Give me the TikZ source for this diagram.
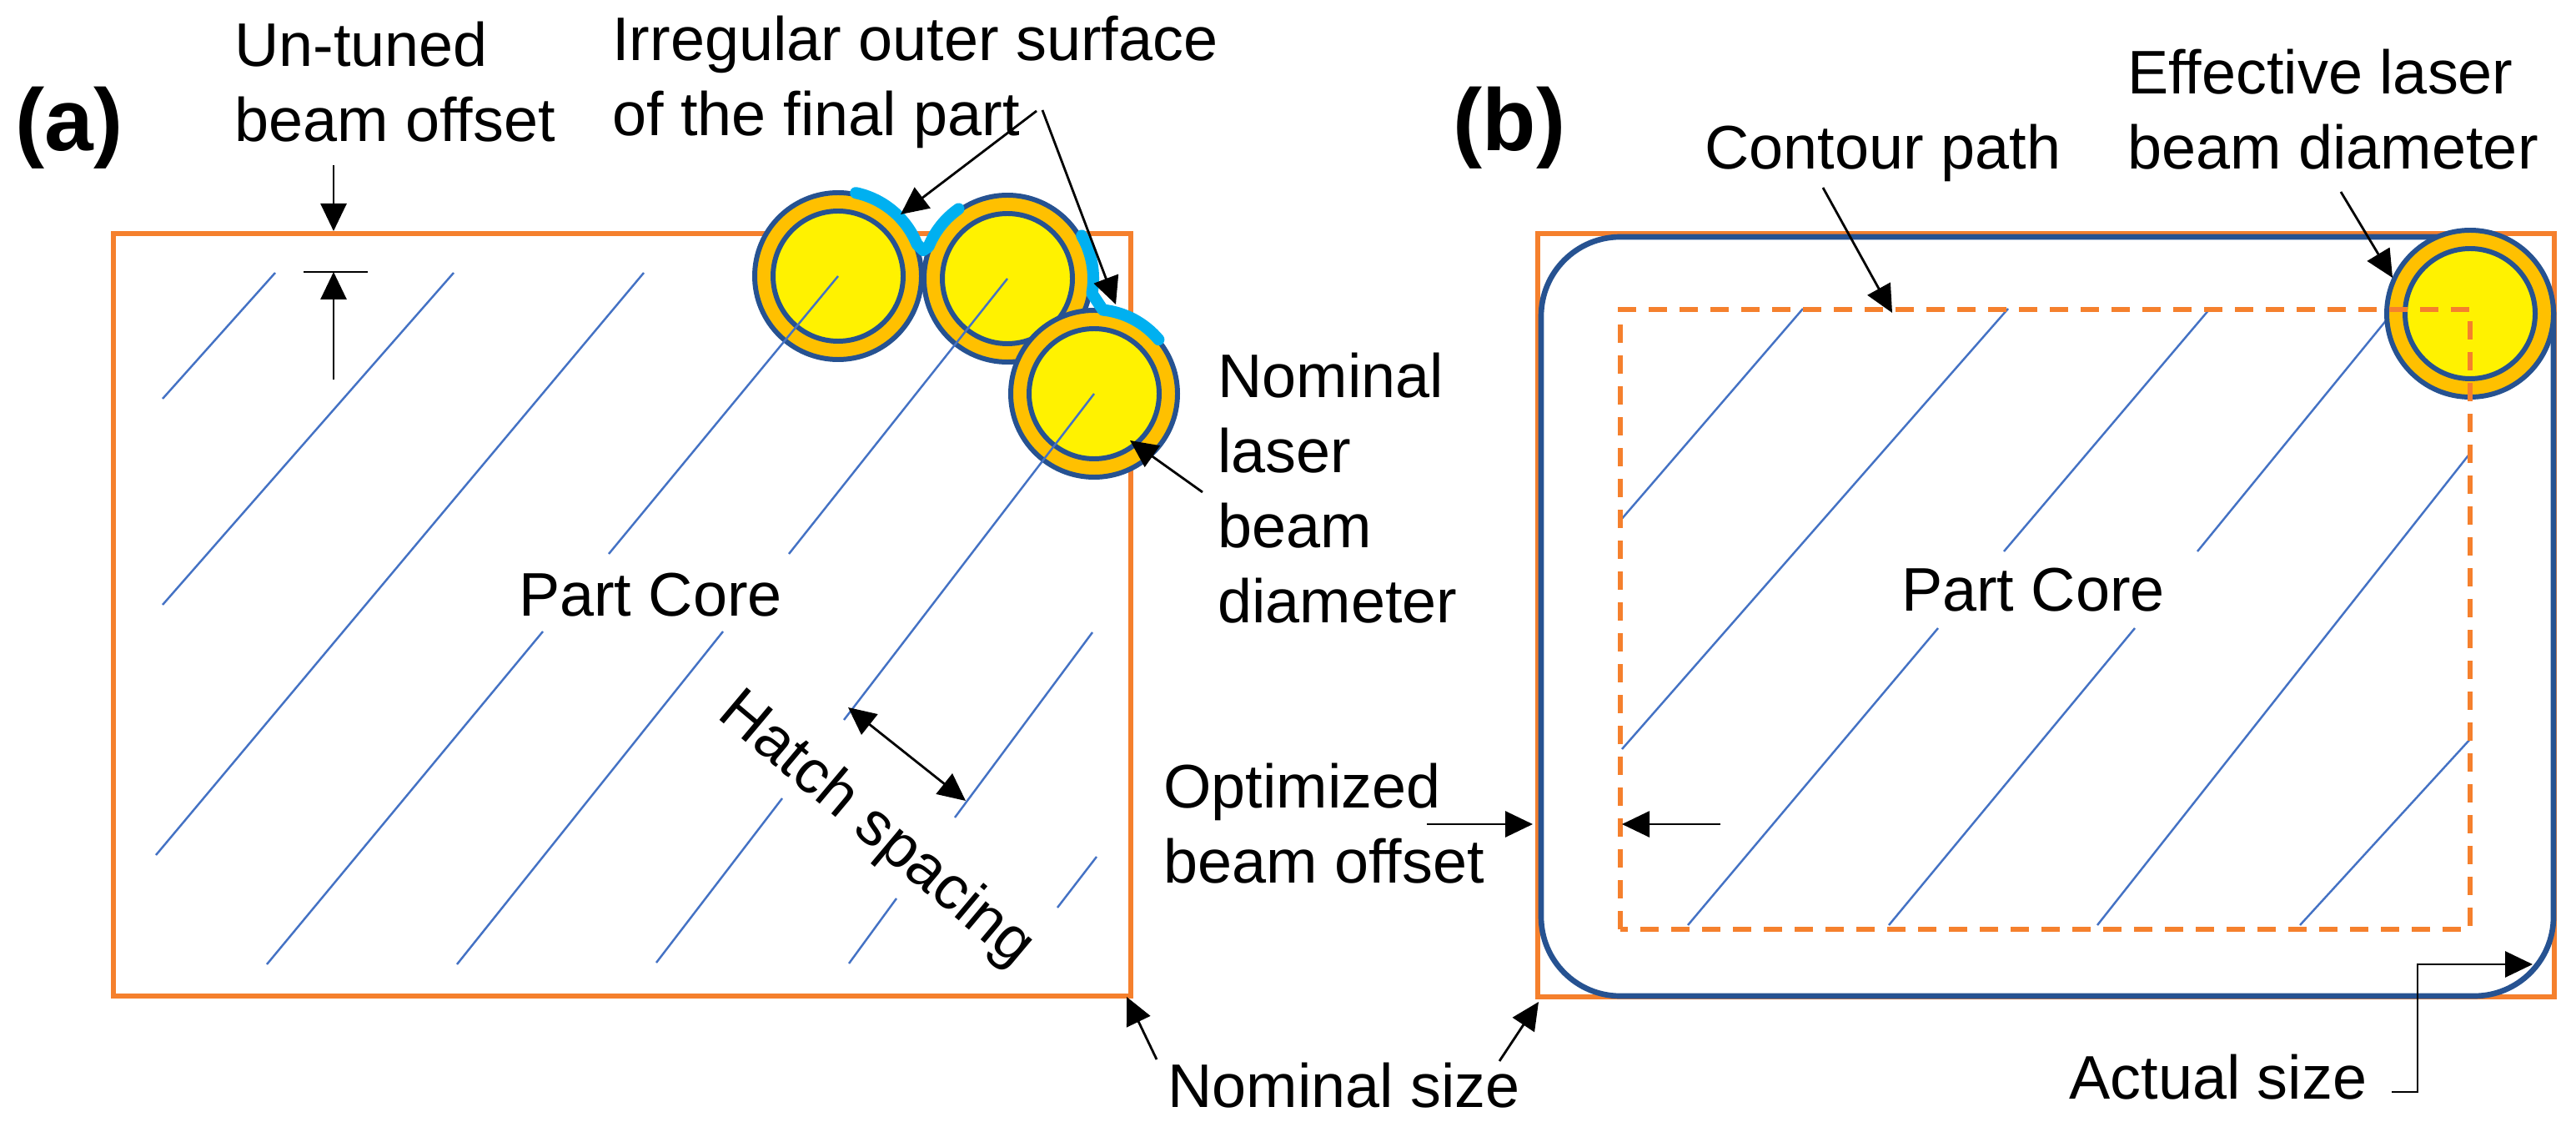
\documentclass[tikz,border=0pt]{standalone}
\usepackage{fontspec}
\setmainfont{Liberation Sans}
\usetikzlibrary{arrows.meta}

\definecolor{nomorange}{RGB}{245,128,45}
\definecolor{beamblue}{RGB}{38,82,145}
\definecolor{ringgold}{RGB}{255,192,0}
\definecolor{hatchblue}{RGB}{68,114,196}
\definecolor{surfcyan}{RGB}{0,176,240}

\tikzset{
  lbl/.style={font=\fontsize{21}{25.6}\selectfont,inner sep=0pt,align=left},
  panel/.style={font=\bfseries\fontsize{30}{36}\selectfont,inner sep=0pt},
  hatch/.style={hatchblue,line width=0.7pt},
  nominal/.style={nomorange,line width=1.8pt},
  beamring/.style={beamblue,line width=1.7pt,fill=ringgold},
  beamspot/.style={beamblue,line width=1.7pt,fill=yellow},
  surf/.style={surfcyan,line width=4pt,line cap=round,line join=round},
}

\begin{document}
\begin{tikzpicture}[line width=0.8pt,>={Triangle[length=3.3mm,width=3.1mm]}]
  \useasboundingbox (0,0) rectangle (30.89,13.56);
  % (a) contorno nominal + haces
  \draw[nominal] (1.36,1.62) rectangle (13.56,10.76);
  \coordinate (c1) at (10.05,10.25);
  \coordinate (c2) at (12.08,10.22);
  \coordinate (c3) at (13.12,8.84);
  \foreach \c in {c1,c2,c3} {\draw[beamring] (\c) circle(1.0); \draw[beamspot] (\c) circle(0.78);}
  \foreach \xa/\ya/\xb/\yb in {1.95/8.78/3.30/10.29, 1.95/6.31/5.44/10.29, 1.87/3.31/7.72/10.29,
      3.20/2.00/6.51/5.99, 5.48/2.00/8.67/5.99, 7.87/2.02/9.38/3.99, 10.18/2.01/10.75/2.79,
      11.45/3.76/13.10/5.98, 12.68/2.68/13.15/3.29}
    \draw[hatch] (\xa,\ya) -- (\xb,\yb);
  \draw[hatch] (7.30,6.92) -- (c1);
  \draw[hatch] (9.46,6.92) -- (c2);
  \draw[hatch] (10.12,4.93) -- (c3);
  % superficie irregular
  \draw[surf] ([shift={(78:1.02)}]c1) arc[start angle=78,end angle=22,radius=1.02]
    -- (11.07,10.56) -- ([shift={(158:1.02)}]c2) arc[start angle=158,end angle=125,radius=1.02];
  \draw[surf] ([shift={(30:1.03)}]c2) arc[start angle=30,end angle=-10,radius=1.03]
    -- ([shift={(84:1.01)}]c3) arc[start angle=84,end angle=40,radius=1.01];

  \node[panel] (pa) at (0.83,12.03) {(a)};
  \node[lbl,anchor=north west] (untuned) at (2.80,13.31) {Un-tuned\\beam offset};
  \node[lbl,anchor=north west] (irreg) at (7.33,13.38) {Irregular outer surface\\of the final part};
  \node[lbl,anchor=north west] (nomlaser) at (14.59,9.34) {Nominal\\laser\\beam\\diameter};
  \node[lbl,anchor=base] (corea) at (7.80,6.18) {Part Core};
  \node[lbl,rotate=-40] (hatchsp) at (10.50,3.61) {Hatch spacing};
  \node[lbl,anchor=base west] (nomsize) at (13.99,0.29) {Nominal size};

  % cotas y flechas (a)
  \coordinate (ut1) at (4.00,11.58); \coordinate (ut2) at (4.00,10.79);
  \coordinate (ut3) at (4.00,9.01);  \coordinate (ut4) at (4.00,10.30);
  \coordinate (bar1) at (3.64,10.30); \coordinate (bar2) at (4.41,10.30);
  \draw[->] (ut1) -- (ut2);
  \draw[->] (ut3) -- (ut4);
  \draw (bar1) -- (bar2);
  \coordinate (ir1) at (12.43,12.23); \coordinate (ir2) at (10.80,10.99);
  \coordinate (ir3) at (12.50,12.24); \coordinate (ir4) at (13.38,9.91);
  \draw[->] (ir1) -- (ir2);
  \draw[->] (ir3) -- (ir4);
  \coordinate (nl1) at (14.42,7.66); \coordinate (nl2) at (13.55,8.28);
  \draw[->] (nl1) -- (nl2);
  \coordinate (hs1) at (10.17,5.08); \coordinate (hs2) at (11.58,3.96);
  \draw[<->] (hs1) -- (hs2);
  \coordinate (ns1) at (13.87,0.86); \coordinate (ns2) at (13.51,1.61);
  \coordinate (ns3) at (17.98,0.84); \coordinate (ns4) at (18.45,1.55);
  \draw[->] (ns1) -- (ns2);
  \draw[->] (ns3) -- (ns4);

  % (b) contorno real + trayectoria de contorno
  \draw[nominal] (18.44,1.61) rectangle (30.63,10.76);
  \draw[beamblue,line width=1.9pt,rounded corners=9.5mm] (18.48,1.62) rectangle (30.62,10.72);
  \foreach \xa/\ya/\xb/\yb in {19.43/7.32/21.62/9.86, 19.45/4.58/24.08/9.86, 20.24/2.47/23.24/6.03,
      24.03/6.95/26.50/9.86, 22.65/2.47/25.60/6.03, 26.35/6.95/28.63/9.74,
      25.15/2.47/29.63/8.14, 27.58/2.47/29.63/4.71}
    \draw[hatch] (\xa,\ya) -- (\xb,\yb);
  \coordinate (c4) at (29.62,9.80);
  \draw[beamring] (c4) circle(1.0); \draw[beamspot] (c4) circle(0.78);
  \draw[nomorange,line width=1.7pt,dash pattern=on 2.2mm off 1.5mm] (19.43,2.42) rectangle (29.62,9.85);

  \node[panel] (pb) at (18.10,12.03) {(b)};
  \node[lbl,anchor=base west] (contour) at (20.43,11.53) {Contour path};
  \node[lbl,anchor=north west] (effect) at (25.50,12.98) {Effective laser\\beam diameter};
  \node[lbl,anchor=north west] (optim) at (13.94,4.42) {Optimized\\beam offset};
  \node[lbl,anchor=base] (coreb) at (24.38,6.23) {Part Core};
  \node[lbl,anchor=base west] (actual) at (24.80,0.39) {Actual size};

  % flechas (b)
  \coordinate (cp1) at (21.86,11.31); \coordinate (cp2) at (22.69,9.81);
  \draw[->] (cp1) -- (cp2);
  \coordinate (ef1) at (28.07,11.26); \coordinate (ef2) at (28.69,10.23);
  \draw[->] (ef1) -- (ef2);
  \coordinate (op1) at (17.11,3.68); \coordinate (op2) at (18.38,3.68);
  \coordinate (op3) at (20.63,3.68); \coordinate (op4) at (19.45,3.68);
  \draw[->] (op1) -- (op2);
  \draw[->] (op3) -- (op4);
  \coordinate (ac1) at (28.68,0.47); \coordinate (ac2) at (28.99,0.47); \coordinate (ac3) at (30.37,2.00);
  \draw[->] (ac1) -- (ac2) |- (ac3);
\end{tikzpicture}
\end{document}
